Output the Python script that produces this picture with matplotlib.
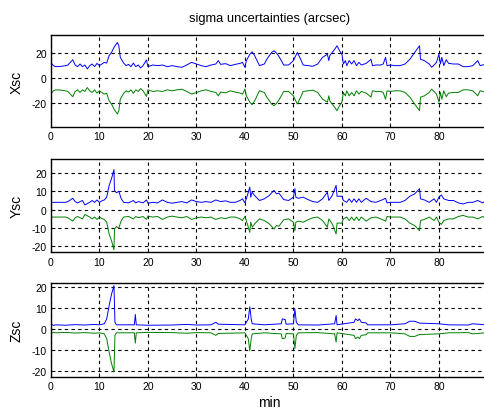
import numpy as np
import matplotlib
matplotlib.use("Agg")
import matplotlib.pyplot as plt

plt.rcParams['font.family'] = ['Liberation Sans', 'DejaVu Sans']
plt.rcParams['axes.unicode_minus'] = False

# sigma (arcsec), plotted as +sigma (blue) and -sigma (green)
x_t = [0, 0.5, 1, 2, 3, 3.5, 4.5, 5, 5.5, 6, 6.5, 7, 7.5, 8, 8.5, 9, 9.5, 10, 10.5, 11, 11.5,
       12, 12.5, 13, 13.7, 14, 14.3, 14.7, 15, 15.5, 16, 16.5, 17, 17.5, 18, 18.5, 19, 19.7,
       20, 21, 22, 23, 24, 25, 26, 27, 28, 29, 30, 31, 32, 33, 34, 34.5, 35, 36, 37, 38, 39,
       39.5, 40, 40.3, 41, 41.5, 42, 42.5, 43, 44, 44.5, 45.5, 46, 46.5, 47, 48, 49, 50, 50.8,
       51.5, 52, 53, 54, 55, 56, 57, 57.3, 57.5, 58.5, 59, 59.5, 60, 60.3, 60.7, 61, 61.5, 62,
       62.5, 63, 63.5, 64, 65, 66, 66.3, 67, 68, 68.5, 69, 69.3, 70, 71, 72, 73, 74, 75, 76,
       76.2, 77, 78, 78.5, 79, 79.5, 80, 80.3, 80.6, 81, 81.5, 82, 83, 84, 85, 86, 87, 88, 88.5,
       89, 89.5]
x_sig = [12.6, 10, 9.2, 9.4, 10, 10.5, 14.7, 10.5, 9.2, 11.3, 9.2, 10.5, 7.4, 10, 11.3, 9.2,
         11.8, 10, 11.3, 12.6, 12, 18, 20.5, 24.5, 28.4, 25.8, 16.6, 14, 12, 10, 11, 9.2, 12,
         9.2, 10.5, 8.2, 10, 14.5, 9.2, 10.5, 10, 10.5, 9.2, 10, 9.2, 8.7, 10.5, 12.6, 11.3,
         10, 9.2, 10.5, 11.3, 14, 11, 11.6, 10, 11, 11.8, 12.6, 8.7, 14, 19, 21, 18, 14, 10, 11.3,
         15, 20.5, 21.8, 20, 17.4, 10.5, 10.5, 14, 20.5, 15, 10.5, 10, 9.5, 11.3, 16.6, 19, 14,
         18, 23, 25.8, 21.8, 19, 11.3, 14, 10, 14, 11.3, 14, 10, 12.6, 10.5, 11.8, 15, 10, 10.5,
         10.5, 11.3, 16.6, 10, 10.5, 10, 10, 11.3, 15, 20.5, 25.8, 15, 14, 11.3, 8.7, 10.5, 12.6,
         19, 11.3, 16.6, 10, 14.7, 11.8, 11.3, 11.3, 9.2, 9.2, 10, 14, 10, 10.5, 11]

y_t = [0, 1, 2, 3, 3.5, 4.5, 5, 5.5, 6.5, 7, 8, 8.5, 9, 9.5, 10, 10.5, 11, 11.5, 12, 12.5, 13,
       13.1, 13.5, 14, 14.5, 15, 16, 17, 17.5, 18, 19, 19.7, 20, 21, 22, 23, 24, 25, 26, 27, 28,
       29, 30, 31, 32, 33, 34, 35, 36, 37, 38, 39, 39.5, 40, 40.5, 41, 41.2, 41.5, 42, 43, 44,
       45, 46, 46.5, 47, 48, 49, 50, 50.3, 50.5, 51, 52, 53, 54, 55, 56, 57, 57.3, 58, 58.8, 59,
       60, 60.3, 61, 61.5, 62, 62.5, 63, 63.5, 64, 65, 66, 67, 68, 69, 69.3, 70, 71, 72, 73, 74,
       75, 76, 76.2, 77, 78, 79, 79.5, 80, 80.5, 81, 82, 83, 84, 85, 86, 87, 88, 89, 89.5]
y_sig = [4, 4, 4, 4, 4.4, 6.2, 4.4, 3.7, 5, 2.6, 4, 5, 4, 5.3, 4, 4.8, 5.3, 6.8, 13.2, 16.9,
         21.8, 10.5, 9.2, 10, 5.9, 4, 3.7, 5, 3.7, 4.4, 3.7, 5.3, 3.5, 4, 3.7, 5.3, 4, 3.5, 4,
         4.4, 3.7, 5.3, 4.4, 4, 4.4, 4, 5.3, 4.4, 4.8, 4, 4, 5, 5.9, 3.7, 7.7, 12.3, 6.8, 9.5,
         7.7, 5, 5.9, 7.7, 10.5, 8.6, 9, 5.5, 5, 6.8, 11.4, 6.8, 6.2, 6.8, 5.5, 4.4, 4, 5.9, 9.5,
         5, 7.7, 13.2, 7.3, 7.3, 5, 4, 5.9, 4, 5.9, 4, 5.9, 4, 6.2, 4.4, 4, 5, 6.2, 3.7, 4, 4,
         4, 5, 7.3, 8.6, 11.4, 5.9, 5.3, 4, 5.9, 4, 6.8, 8, 5.9, 5, 5, 3.7, 3.1, 4, 4, 5, 3.7,
         4.6]

z_t = [0, 0.5, 1, 3, 5, 7, 9, 10, 11, 11.5, 12, 12.5, 13, 13.2, 13.5, 17.2, 17.4, 17.6, 20,
       25, 28, 30, 33, 34, 34.5, 40, 40.7, 41, 41.3, 41.5, 44, 47.5, 47.7, 48.3, 48.5, 50,
       50.3, 50.6, 51, 55, 58.5, 58.8, 59, 62.5, 62.8, 63.3, 63.6, 64, 65, 65.3, 70, 73, 74,
       75, 76, 80, 82, 86, 87, 89.5]
z_sig = [2.4, 1.6, 1.9, 1.7, 2.0, 1.8, 2.1, 1.9, 2.4, 4.7, 11, 16.5, 20.5, 3.1, 1.9, 1.9, 6.8,
         1.9, 1.7, 1.8, 2.1, 1.8, 1.9, 3.1, 2.2, 1.9, 4.7, 10.5, 4.7, 2.4, 1.9, 2.4, 4.7, 4.4,
         2.2, 2.4, 9.4, 3.1, 1.9, 1.8, 2.4, 6.3, 1.9, 3.1, 4.7, 3.9, 4.7, 3.1, 2.8, 1.9, 1.9,
         2.4, 3.6, 3.6, 2.7, 2.4, 1.9, 1.8, 2.4, 1.9]

labels = ['Xsc', 'Ysc', 'Zsc']
ylims = [(-39, 34.6), (-23.2, 27.6), (-22.7, 21.9)]
yticks = [[-20, 0, 20], [-20, -10, 0, 10, 20], [-20, -10, 0, 10, 20]]
# left, bottom, width, height in figure fraction
boxes = [(0.105, 0.687, 0.9, 0.226), (0.105, 0.382, 0.9, 0.228), (0.105, 0.079, 0.9, 0.229)]

fig = plt.figure(figsize=(4.85, 4.10), dpi=100)
fig.patch.set_facecolor('white')

series = [(x_t, x_sig), (y_t, y_sig), (z_t, z_sig)]
for i, (t, s) in enumerate(series):
    ax = fig.add_axes(boxes[i])
    t = np.array(t)
    s = np.array(s)
    ax.plot(t, s, color='#0000ff', lw=0.7)
    ax.plot(t, -s, color='#008000', lw=0.7)
    ax.set_xlim(0, 90)
    ax.set_ylim(*ylims[i])
    ax.set_xticks(range(0, 90, 10))
    ax.set_yticks(yticks[i])
    ax.grid(True, color='black', linestyle=(0, (3, 3)), lw=0.8)
    ax.tick_params(direction='in', labelsize=7.5, length=3, width=0.6, pad=3)
    for sp in ax.spines.values():
        sp.set_linewidth(1.0)
    ax.set_ylabel(labels[i], fontsize=10)
    ax.yaxis.set_label_coords(-0.062, 0.5)
    if i == 0:
        ax.set_title('sigma uncertainties (arcsec)', fontsize=9.3, pad=10)
    if i == 2:
        ax.set_xlabel('min', fontsize=10, labelpad=3)

fig.savefig('out.png', dpi=100)
